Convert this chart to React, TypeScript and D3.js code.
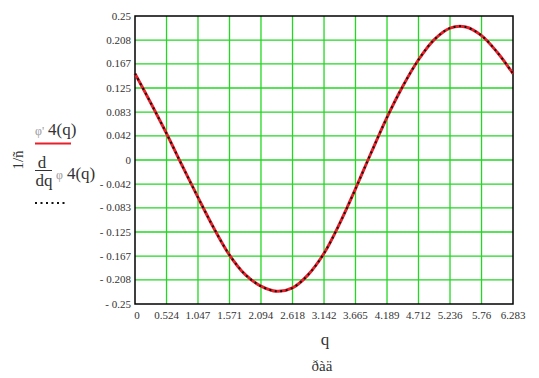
import React from "react";
import * as d3 from "d3";

const qValues = [0, 0.262, 0.524, 0.785, 1.047, 1.309, 1.571, 1.833, 2.094, 2.356, 2.618, 2.88, 3.142, 3.403, 3.665, 3.927, 4.189, 4.451, 4.712, 4.974, 5.236, 5.498, 5.76, 6.021, 6.283];
const seriesDeriv = [0.150, 0.099, 0.046, -0.010, -0.065, -0.118, -0.165, -0.199, -0.219, -0.228, -0.222, -0.199, -0.162, -0.110, -0.050, 0.013, 0.074, 0.128, 0.174, 0.209, 0.229, 0.231, 0.216, 0.187, 0.150];
const xTickLabels = ["0", "0.524", "1.047", "1.571", "2.094", "2.618", "3.142", "3.665", "4.189", "4.712", "5.236", "5.76", "6.283"];
const yTickLabels = ["0.25", "0.208", "0.167", "0.125", "0.083", "0.042", "0", "-0.042", "-0.083", "-0.125", "-0.167", "-0.208", "-0.25"];

const W = 539, H = 378;
const L = 135, R = 513, T = 16, B = 304;
const GRID = "#22d822";
const FONT = "Times New Roman, Liberation Serif, DejaVu Serif, serif";

export default function App() {
  const x = d3.scaleLinear().domain([0, 6.283]).range([L, R]);
  const y = d3.scaleLinear().domain([-0.25, 0.25]).range([B, T]);
  const pts = qValues.map((q, i) => [q, seriesDeriv[i]] as [number, number]);
  const line = d3.line<[number, number]>().x(d => x(d[0])).y(d => y(d[1])).curve(d3.curveCatmullRom.alpha(0.5));
  const path = line(pts) || "";
  const xt = xTickLabels.map(s => parseFloat(s));
  const yt = yTickLabels.map(s => parseFloat(s));
  return (
    <div style={{ position: "absolute", left: 0, top: 0 }}>
      <svg width={W} height={H} style={{ display: "block", background: "#fff" }}>
        {xt.slice(1, -1).map((v, i) => (
          <line key={"gx" + i} x1={x(v)} x2={x(v)} y1={T} y2={B} stroke={GRID} strokeWidth={1.3} />
        ))}
        {yt.slice(1, -1).map((v, i) => (
          <line key={"gy" + i} x1={L} x2={R} y1={y(v)} y2={y(v)} stroke={GRID} strokeWidth={1.3} />
        ))}
        <rect x={L} y={T} width={R - L} height={B - T} fill="none" stroke="#000" strokeWidth={1.5} />
        <path d={path} fill="none" stroke="#e8202a" strokeWidth={3} />
        <path d={path} fill="none" stroke="#111" strokeWidth={2} strokeDasharray="2 3.5" />
        {yTickLabels.map((s, i) => (
          <text key={"yl" + i} x={131} y={y(yt[i]) + 3.5} textAnchor="end" style={{ fontFamily: FONT, fontSize: "11px" }} fill="#333">
            {s.startsWith("-") ? "-  " + s.slice(1) : s}
          </text>
        ))}
        {xTickLabels.map((s, i) => (
          <text key={"xl" + i} x={x(xt[i]) + (i === 0 ? 2 : 0)} y={319} textAnchor="middle" style={{ fontFamily: FONT, fontSize: "11px" }} fill="#333">
            {s}
          </text>
        ))}
        <text x={325} y={345} textAnchor="middle" style={{ fontFamily: FONT, fontSize: "17px" }} fill="#333">q</text>
        <text x={322} y={371} textAnchor="middle" style={{ fontFamily: FONT, fontSize: "15px" }} fill="#333">ðàä</text>
        <text transform="translate(23,160) rotate(-90)" textAnchor="middle" style={{ fontFamily: FONT, fontSize: "15px" }} fill="#333">1/ñ</text>
        <text x={35} y={135} style={{ fontFamily: FONT }} fill="#333">
          <tspan style={{ fontSize: "12px" }} fill="#999">φ'</tspan>
          <tspan style={{ fontSize: "17px" }} dx={4}>4(q)</tspan>
        </text>
        <line x1={35} x2={71} y1={143.5} y2={143.5} stroke="#e8202a" strokeWidth={2} />
        <text x={42} y={168} textAnchor="middle" style={{ fontFamily: FONT, fontSize: "17px" }} fill="#333">d</text>
        <line x1={35} x2={52} y1={170.5} y2={170.5} stroke="#333" strokeWidth={1} />
        <text x={44} y={186} textAnchor="middle" style={{ fontFamily: FONT, fontSize: "17px" }} fill="#333">dq</text>
        <text x={56} y={179} style={{ fontFamily: FONT }} fill="#333">
          <tspan style={{ fontSize: "12px" }} fill="#999">φ</tspan>
          <tspan style={{ fontSize: "17px" }} dx={4}>4(q)</tspan>
        </text>
        <line x1={35} x2={66} y1={203} y2={203} stroke="#111" strokeWidth={2} strokeDasharray="2 3.5" />
      </svg>
    </div>
  );
}
